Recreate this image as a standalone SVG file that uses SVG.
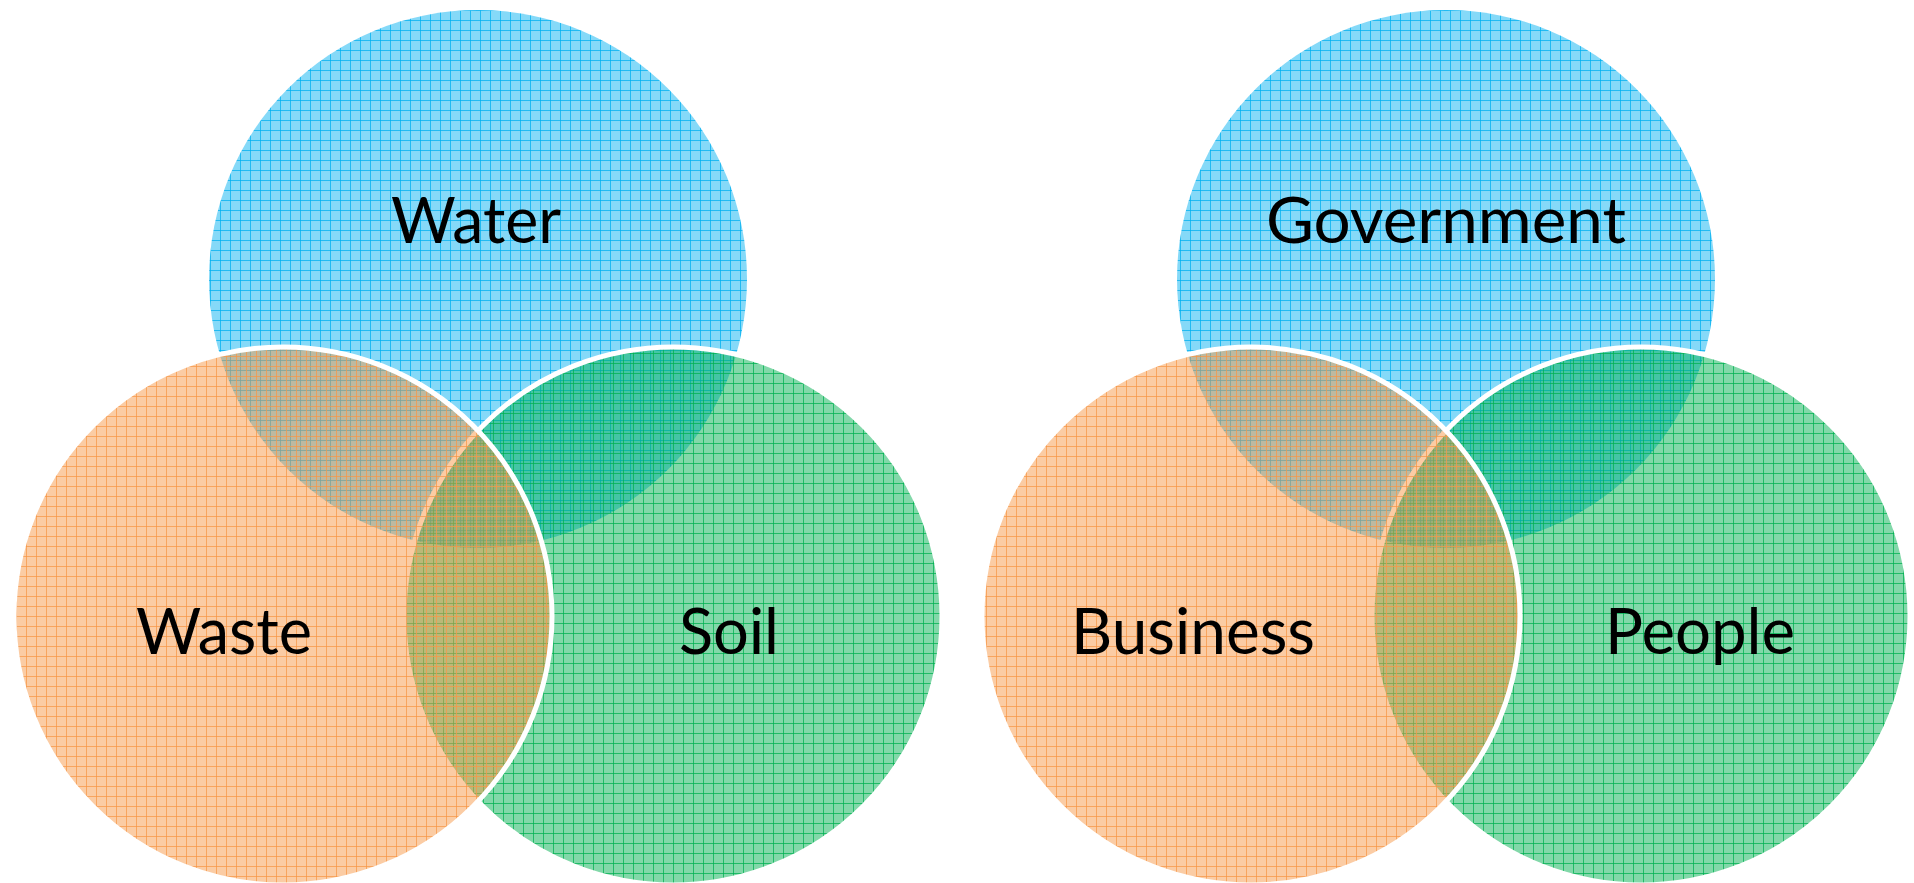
<svg xmlns="http://www.w3.org/2000/svg" width="1914" height="883" viewBox="0 0 1914 883">
  <style>
    .lbl { font-family: Lato, "Open Sans", "Liberation Sans", sans-serif; font-size: 63px; fill: #000; text-anchor: middle; }
    .ring { stroke: #fff; stroke-width: 5; }
  </style>
  <defs>
    <pattern id="pBlue" patternUnits="userSpaceOnUse" width="10" height="10">
      <rect width="10" height="10" fill="#00B0F0" fill-opacity="0.48"/>
      <rect x="0" y="0" width="10" height="1" fill="#00B0F0" fill-opacity="0.75"/>
      <rect x="0" y="0" width="1" height="10" fill="#00B0F0" fill-opacity="0.75"/>
    </pattern>
    <pattern id="pGreen" patternUnits="userSpaceOnUse" width="10" height="10" patternTransform="translate(3 3)">
      <rect width="10" height="10" fill="#00B050" fill-opacity="0.49"/>
      <rect x="0" y="0" width="10" height="1" fill="#00B050" fill-opacity="0.75"/>
      <rect x="0" y="0" width="1" height="10" fill="#00B050" fill-opacity="0.75"/>
    </pattern>
    <pattern id="pOrange" patternUnits="userSpaceOnUse" width="10" height="10" patternTransform="translate(6 6)">
      <rect width="10" height="10" fill="#F79646" fill-opacity="0.49"/>
      <rect x="0" y="0" width="10" height="1" fill="#F79646" fill-opacity="0.75"/>
      <rect x="0" y="0" width="1" height="10" fill="#F79646" fill-opacity="0.75"/>
    </pattern>
  </defs>
  <rect width="1914" height="883" fill="#fff"/>

  <g id="connectors"/>

  <!-- Left Venn -->
  <g id="water">
    <circle cx="478" cy="279" r="269" fill="url(#pBlue)"/>
    <text class="lbl" x="476" y="243" textLength="170" lengthAdjust="spacingAndGlyphs">Water</text>
  </g>
  <g id="soil">
    <circle class="ring" cx="673" cy="616" r="269" fill="url(#pGreen)"/>
    <text class="lbl" x="729" y="654" textLength="100" lengthAdjust="spacingAndGlyphs">Soil</text>
  </g>
  <g id="waste">
    <circle class="ring" cx="283" cy="616" r="269" fill="url(#pOrange)"/>
    <text class="lbl" x="224" y="654" textLength="176" lengthAdjust="spacingAndGlyphs">Waste</text>
  </g>

  <!-- Right Venn -->
  <g id="government">
    <circle cx="1446" cy="279" r="269" fill="url(#pBlue)"/>
    <text class="lbl" x="1446" y="243" textLength="360" lengthAdjust="spacingAndGlyphs">Government</text>
  </g>
  <g id="people">
    <circle class="ring" cx="1641" cy="616" r="269" fill="url(#pGreen)"/>
    <text class="lbl" x="1700" y="654" textLength="190" lengthAdjust="spacingAndGlyphs">People</text>
  </g>
  <g id="business">
    <circle class="ring" cx="1251" cy="616" r="269" fill="url(#pOrange)"/>
    <text class="lbl" x="1193" y="654" textLength="244" lengthAdjust="spacingAndGlyphs">Business</text>
  </g>
</svg>
